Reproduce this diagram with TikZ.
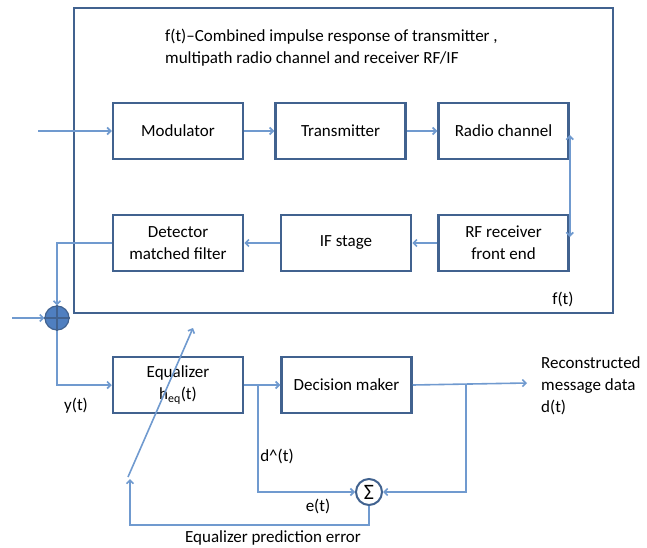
\documentclass[tikz,border=0pt]{standalone}
\usepackage{fontspec}
\setmainfont{Carlito}
\usetikzlibrary{arrows.meta}
\definecolor{boxc}{HTML}{41628F}
\definecolor{linec}{HTML}{709ACF}
\definecolor{addc}{HTML}{4F7FC0}
\begin{document}
\begin{tikzpicture}[x=1pt,y=-1pt,
  font=\fontsize{17}{22}\selectfont,
  blk/.style={draw=boxc,line width=2.5pt,minimum width=130pt,minimum height=56pt,inner sep=2pt,align=center,fill=white},
  conn/.style={draw=linec,line width=1.6pt,-{Straight Barb[length=3.5pt,width=7pt]}},
  conn2/.style={draw=linec,line width=1.6pt,{Straight Barb[length=3.5pt,width=7pt]}-{Straight Barb[length=3.5pt,width=7pt]}},
  plain/.style={draw=linec,line width=1.6pt},
  lbl/.style={inner sep=0pt,align=left}]
\useasboundingbox (0,0) rectangle (647,548);
% big box
\node[draw=boxc,line width=2.5pt,minimum width=539pt,minimum height=305pt,inner sep=0pt] (big) at (343.5,160.5) {};
\node[lbl,anchor=west] (title) at (165,48) {f(t)–Combined impulse response of transmitter ,\\multipath radio channel and receiver RF/IF};
\node[lbl] (ft) at (563,299) {f(t)};
% blocks
\node[blk] (mod) at (178,131) {Modulator};
\node[blk] (tx) at (340.5,131) {Transmitter};
\node[blk] (radio) at (503.5,131) {Radio channel};
\node[blk] (det) at (178,243) {Detector\\matched filter};
\node[blk] (ifs) at (346,243) {IF stage};
\node[blk] (rf) at (503.5,243) {RF receiver\\front end};
\node[blk] (eq) at (178,385) {Equalizer\\h\textsubscript{eq}(t)};
\node[blk] (dec) at (346.5,385) {Decision maker};
% adder and sigma
\node[circle,draw=boxc,fill=addc,line width=1.2pt,minimum size=24pt,inner sep=0pt] (add) at (57,318) {};
\draw[boxc,line width=1.2pt] (add.north) -- (add.south) (add.west) -- (add.east);
\node[circle,draw=boxc,fill=white,line width=2pt,minimum size=26pt,inner sep=0pt,font=\fontsize{22}{22}\selectfont] (sig) at (369,492) {Σ};
% coordinates
\coordinate (in1) at (38,131);
\coordinate (in2) at (12,318);
\coordinate (dcorner) at (57,243);
\coordinate (ycorner) at (57,385);
\coordinate (b1) at (258,385);
\coordinate (b1d) at (258,492);
\coordinate (b2) at (466,384);
\coordinate (b2d) at (466,492);
\coordinate (out) at (527,383);
\coordinate (e1) at (369,525);
\coordinate (e2) at (130,525);
\coordinate (e3) at (130,479);
\coordinate (diagA) at (128,477);
\coordinate (diagB) at (193,328);
% connectors
\draw[conn] (in1) -- (mod.west);
\draw[conn] (mod.east) -- (tx.west);
\draw[conn] (tx.east) -- (radio.west);
\draw[conn2] ([yshift=-4pt]radio.east) -- ([yshift=6pt]rf.east);
\draw[conn] (rf.west) -- (ifs.east);
\draw[conn] (ifs.west) -- (det.east);
\draw[conn] (det.west) -- (dcorner) -- (add.north);
\draw[conn] (in2) -- (add.west);
\draw[conn] (add.south) -- (ycorner) -- (eq.west);
\draw[conn] (eq.east) -- (dec.west);
\draw[conn] (b1) -- (b1d) -- (sig.west);
\draw[conn] (dec.east) -- (out);
\draw[conn] (b2) -- (b2d) -- (sig.east);
\draw[conn] (sig.south) -- (e1) -- (e2) -- (e3);
\draw[conn] (diagA) -- (diagB);
% labels
\node[lbl] (yt) at (76,406) {y(t)};
\node[lbl] (dhat) at (277,456) {d\^{}(t)};
\node[lbl] (et) at (318,506) {e(t)};
\node[lbl] (eqerr) at (273,538) {Equalizer prediction error};
\node[lbl,anchor=north west] (rec) at (541,356) {Reconstructed\\message data\\d(t)};
\end{tikzpicture}
\end{document}
